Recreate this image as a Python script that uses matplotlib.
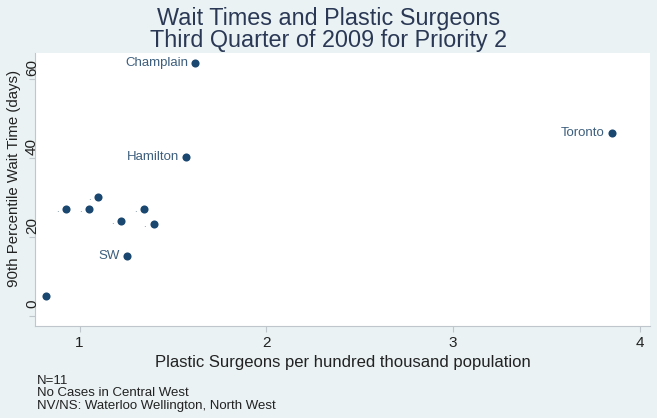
import matplotlib
matplotlib.use("Agg")
import matplotlib.pyplot as plt
import matplotlib.transforms as mtransforms

# data
names = ["Champlain", "Toronto", "Hamilton", "SW", "", ".", ".", ".", ".", ".", "."]
surgeons = [1.62, 3.85, 1.57, 1.255, 0.82, 0.927, 1.052, 1.10, 1.224, 1.347, 1.396]
wait_90 = [64.0, 46.3, 40.3, 15.2, 5.1, 27.1, 27.1, 30.2, 24.1, 27.1, 23.3]

x_ticks = [1, 2, 3, 4]
y_ticks = [0, 20, 40, 60]

bg = "#eaf2f3"
navy = "#1a476f"

plt.rcParams["font.family"] = ["Liberation Sans", "DejaVu Sans"]

fig = plt.figure(figsize=(6.57, 4.18), dpi=100)
fig.patch.set_facecolor(bg)
ax = fig.add_axes([0.0533, 0.22, 0.936, 0.653])
ax.set_facecolor("white")

ax.scatter(surgeons, wait_90, s=34, color=navy, zorder=3, linewidths=0)
for n, x, y in zip(names, surgeons, wait_90):
    if not n:
        continue
    if n == ".":
        ax.annotate(n, (x, y), xytext=(-6.5, 0), textcoords="offset points",
                    ha="center", va="center", fontsize=7, color="#6a8196")
    else:
        ax.annotate(n, (x, y), xytext=(-5, 0), textcoords="offset points",
                    ha="right", va="center", fontsize=9.5, color="#3d5f7d")

ax.set_xlim(0.761, 4.056)
ax.set_ylim(-2.5, 66.6)
ax.set_xticks(x_ticks)
ax.set_yticks(y_ticks)
ax.set_xticklabels([str(t) for t in x_ticks], fontsize=11, color="#222222")
ax.set_yticklabels([])

# y tick labels sit just above their tick marks, as in the reference
shift = mtransforms.ScaledTranslation(-3 / 100, 12 / 100, fig.dpi_scale_trans)
for t in y_ticks:
    ax.text(0, t, str(t), transform=ax.get_yaxis_transform() + shift,
            rotation=90, ha="center", va="center", fontsize=11, color="#222222")

for side in ["top", "right"]:
    ax.spines[side].set_visible(False)
for side in ["left", "bottom"]:
    ax.spines[side].set_color("#bfc7cc")
    ax.spines[side].set_linewidth(0.8)
ax.tick_params(axis="both", length=4, color="#bfc7cc", width=0.8, pad=3)

ax.set_xlabel("Plastic Surgeons per hundred thousand population",
              fontsize=12, color="#222222", labelpad=4)
ax.set_ylabel("90th Percentile Wait Time (days)", fontsize=10.8, color="#222222",
              va="center")
ax.yaxis.set_label_coords(-0.034, 0.542)

fig.text(0.5, 1 - 18 / 418, "Wait Times and Plastic Surgeons", ha="center",
         va="center", fontsize=16.8, color="#2a3855")
fig.text(0.5, 1 - 40 / 418, "Third Quarter of 2009 for Priority 2", ha="center",
         va="center", fontsize=16.8, color="#2a3855")

notes = ["N=11", "No Cases in Central West", "NV/NS: Waterloo Wellington, North West"]
for i, line in enumerate(notes):
    fig.text(37 / 657, 1 - (381 + 12.5 * i) / 418, line, ha="left", va="center",
             fontsize=9.5, color="#222222")

fig.savefig("out.png", dpi=100, facecolor=bg)
